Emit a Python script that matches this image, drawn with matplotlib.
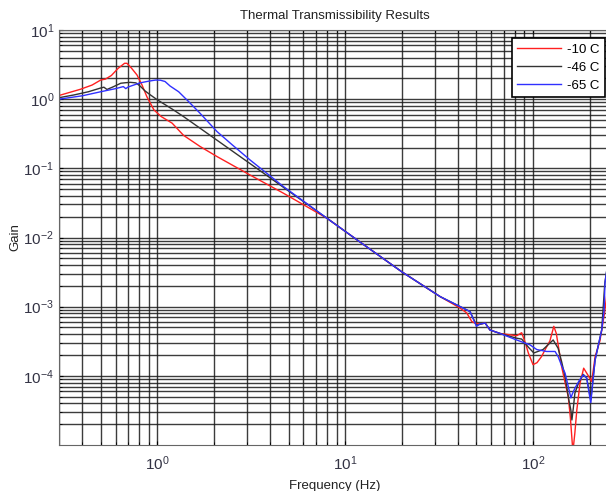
import matplotlib
matplotlib.use("Agg")
import matplotlib.pyplot as plt
import numpy as np
from matplotlib.ticker import LogLocator, NullFormatter

plt.rcParams['font.family'] = ['Liberation Sans', 'DejaVu Sans']
plt.rcParams['mathtext.fontset'] = 'custom'
plt.rcParams['mathtext.rm'] = 'Liberation Sans'
plt.rcParams['mathtext.it'] = 'Liberation Sans'

# -10 C
f_red = [0.3, 0.39, 0.45, 0.5, 0.53, 0.57, 0.62, 0.67, 0.69, 0.73, 0.78, 0.83, 0.88, 0.96,
         1.05, 1.2, 1.38, 1.69, 2.08, 3.12, 4.7, 8.0, 12, 20, 32, 41, 44.4, 47.2, 49, 52,
         55.6, 59, 66.7, 81.8, 87, 91, 94.4, 100, 105, 111, 117, 123, 129, 133, 137, 142,
         148, 154, 158, 163, 167, 171, 178, 186, 197, 205, 210, 214, 227, 240, 255]
g_red = [1.13, 1.39, 1.6, 1.89, 1.95, 2.2, 2.8, 3.3, 3.3, 2.8, 2.24, 1.6, 1.09, 0.70,
         0.56, 0.45, 0.30, 0.207, 0.148, 0.080, 0.0436, 0.019, 0.0086, 0.0032, 0.0014,
         0.00095, 0.00081, 0.00061, 0.00058, 0.00056, 0.00058, 0.00046, 0.00041, 0.00038,
         0.00042, 0.0003, 0.000214, 0.000145, 0.000155, 0.00019, 0.00025, 0.00032, 0.00052,
         0.00041, 0.00025, 0.000136, 8e-5, 5e-5, 2.5e-5, 8e-6, 1.5e-5, 3.2e-5, 7.9e-5,
         0.000129, 1e-4, 8.3e-5, 0.00013, 0.00019, 0.00032, 0.0008, 0.003]

# -46 C
f_blk = [0.3, 0.36, 0.43, 0.5, 0.52, 0.54, 0.58, 0.64, 0.68, 0.72, 0.77, 0.81, 0.86, 0.92,
         1.0, 1.2, 1.38, 1.69, 2.08, 3.12, 4.7, 8.0, 12, 20, 32, 41, 46.2, 50, 55.6, 59,
         66.7, 81.8, 87, 94.4, 101, 113, 128, 136, 142, 148, 155, 159, 161, 164, 167, 175,
         185, 193, 203, 214, 232, 241, 255]
g_blk = [1.05, 1.15, 1.28, 1.45, 1.49, 1.38, 1.5, 1.7, 1.73, 1.75, 1.72, 1.55, 1.32, 1.15,
         0.98, 0.72, 0.56, 0.38, 0.255, 0.117, 0.053, 0.019, 0.0086, 0.0032, 0.0014, 0.001,
         0.00085, 0.00054, 0.00058, 0.00046, 0.00041, 0.00035, 0.00034, 0.00026, 0.000214,
         0.00024, 0.00033, 0.00025, 0.00016, 9.8e-5, 4.5e-5, 3.2e-5, 2.3e-5, 3.5e-5, 5.6e-5,
         8e-5, 0.000105, 9.3e-5, 4.5e-5, 0.00017, 0.00046, 0.0022, 0.006]

# -65 C
f_blu = [0.3, 0.4, 0.5, 0.6, 0.66, 0.68, 0.7, 0.76, 0.81, 0.9, 0.98, 1.04, 1.1, 1.17, 1.3,
         1.47, 1.69, 2.08, 2.5, 3.12, 4.7, 8.0, 12, 20, 32, 41, 46.2, 50, 52, 55.6, 59,
         66.7, 81.8, 96.4, 104.7, 118, 131, 136, 142, 148, 154, 159, 162, 167, 176, 185,
         193, 198, 203, 208, 214, 232, 239, 241.5, 255]
g_blu = [1.0, 1.12, 1.28, 1.42, 1.52, 1.42, 1.5, 1.62, 1.72, 1.82, 1.89, 1.88, 1.8, 1.55,
         1.28, 0.92, 0.625, 0.34, 0.22, 0.132, 0.0544, 0.019, 0.0086, 0.0032, 0.0014, 0.001,
         0.00085, 0.00052, 0.00056, 0.00058, 0.00046, 0.00041, 0.00033, 0.00028, 0.00024,
         0.000225, 0.000225, 0.00019, 0.00014, 0.00011, 7e-5, 4.8e-5, 5.5e-5, 6.6e-5, 8.5e-5,
         0.000103, 9.3e-5, 6e-5, 4.1e-5, 8e-5, 0.00017, 0.00046, 0.0009, 0.0022, 0.006]

labels = ['-10 C', '-46 C', '-65 C']

fig = plt.figure(figsize=(6.06, 4.91), dpi=100)
ax = fig.add_axes([59 / 606, 46 / 491, 552 / 606, 415 / 491])

ax.plot(f_red, g_red, color='#ff2020', lw=1.0, label=labels[0])
ax.plot(f_blk, g_blk, color='#333333', lw=1.0, label=labels[1])
ax.plot(f_blu, g_blu, color='#3030ff', lw=1.0, label=labels[2])

ax.set_xscale('log')
ax.set_yscale('log')
ax.set_xlim(0.3, 260)
ax.set_ylim(1e-5, 10)
ax.set_yticks([1e-4, 1e-3, 1e-2, 1e-1, 1, 10])
ax.set_xticks([1, 10, 100])
for axis in (ax.xaxis, ax.yaxis):
    axis.set_minor_locator(LogLocator(base=10, subs=np.arange(2, 10), numticks=100))
    axis.set_minor_formatter(NullFormatter())

# full major + minor grid, black like the original
ax.grid(True, which='both', color='#1a1a1a', lw=1.0, alpha=0.85)
ax.set_axisbelow(True)

ax.tick_params(which='both', direction='in', top=True, right=True, color='black',
               labelsize=11, labelcolor='#333344')
ax.tick_params(which='major', length=3)
ax.tick_params(which='minor', length=2)
ax.tick_params(axis='x', which='major', pad=7)
for s in ax.spines.values():
    s.set_color('#666666')

ax.set_title('Thermal Transmissibility Results', fontsize=9.5, color='#222222', pad=8)
ax.set_xlabel('Frequency (Hz)', fontsize=9.5, color='#222222', labelpad=5)
ax.set_ylabel('Gain', fontsize=9.5, color='#222222')
ax.yaxis.set_label_coords(-0.068, 0.5)

leg = ax.legend(loc='upper left', bbox_to_anchor=(512 / 606, 1 - 38 / 491),
                bbox_transform=fig.transFigure, fancybox=False, framealpha=1,
                edgecolor='black', fontsize=9.5, handlelength=3.3, borderpad=0.4,
                borderaxespad=0, labelspacing=0.45, handletextpad=0.5)
leg.get_frame().set_linewidth(1.2)

fig.savefig('out.png', dpi=100)
